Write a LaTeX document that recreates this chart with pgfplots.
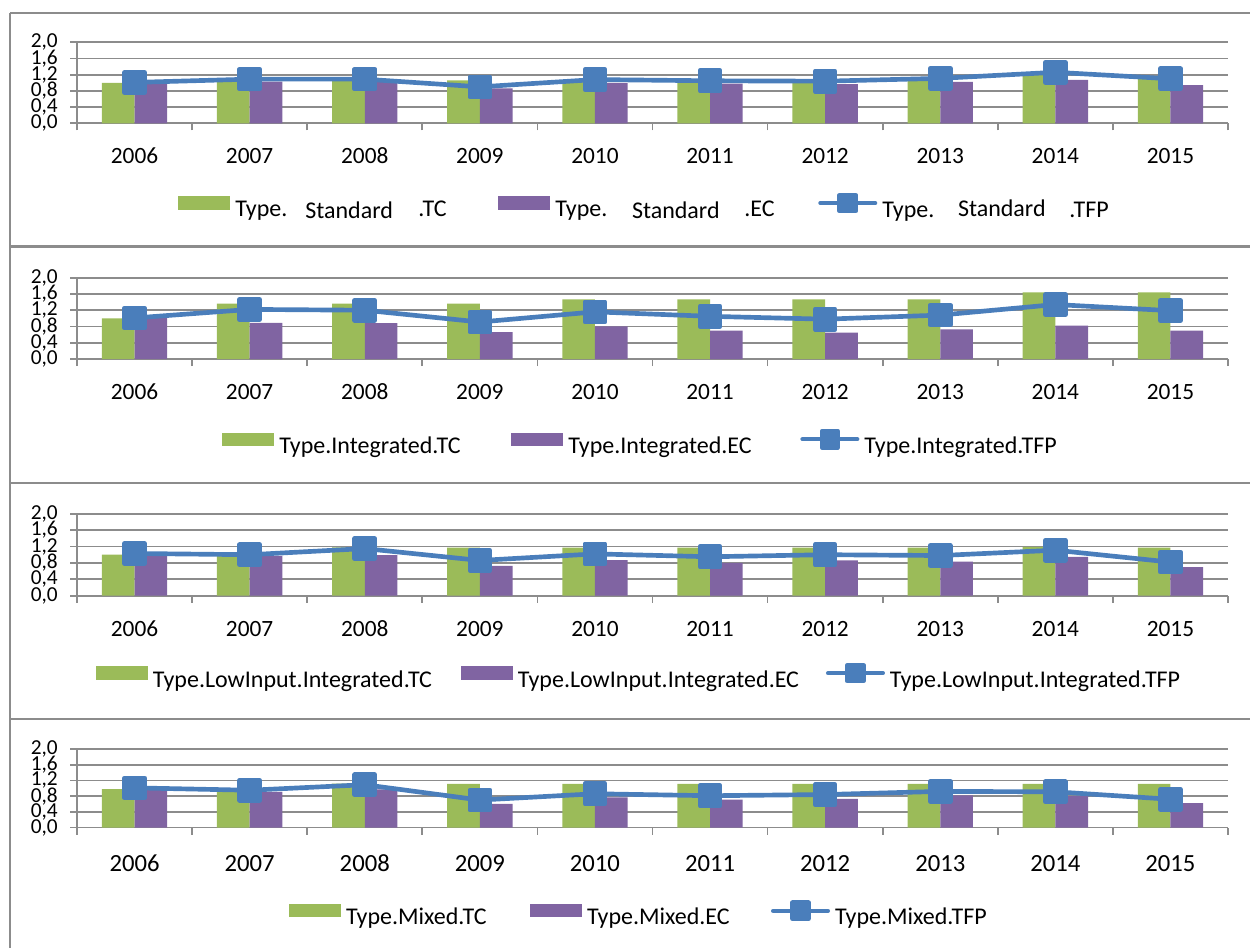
\documentclass[border=0pt]{standalone}
\usepackage{fontspec}
\setmainfont{Carlito}
\usepackage{pgfplots}
\usepackage{pgfplotstable}
\pgfplotsset{compat=1.18}

\definecolor{tcgreen}{HTML}{9BBB59}
\definecolor{ecpurple}{HTML}{8064A2}
\definecolor{tfpblue}{HTML}{4A7EBB}
\definecolor{gridgray}{HTML}{8C8C8C}

% Malmquist decomposition by farm type: TC, EC and TFP per year
\pgfplotstableread{
x TC EC TFP
0 1.00 0.97 1.01
1 1.06 1.03 1.09
2 1.06 1.03 1.09
3 1.06 0.86 0.90
4 1.04 1.00 1.08
5 1.02 0.98 1.05
6 1.00 0.97 1.04
7 1.12 1.02 1.11
8 1.19 1.07 1.26
9 1.13 0.94 1.10
}\standard
\pgfplotstableread{
x TC EC TFP
0 1.00 1.01 1.01
1 1.36 0.89 1.22
2 1.36 0.88 1.20
3 1.36 0.66 0.91
4 1.47 0.80 1.16
5 1.47 0.70 1.05
6 1.47 0.65 0.98
7 1.47 0.73 1.08
8 1.64 0.82 1.34
9 1.64 0.70 1.19
}\integrated
\pgfplotstableread{
x TC EC TFP
0 1.00 0.97 1.03
1 1.00 0.97 1.00
2 1.18 0.99 1.15
3 1.17 0.73 0.86
4 1.17 0.87 1.02
5 1.17 0.80 0.95
6 1.17 0.86 1.00
7 1.17 0.83 0.98
8 1.19 0.95 1.11
9 1.17 0.70 0.82
}\lowinput
\pgfplotstableread{
x TC EC TFP
0 0.98 0.95 1.01
1 0.98 0.91 0.95
2 1.12 0.97 1.09
3 1.11 0.60 0.70
4 1.11 0.77 0.86
5 1.11 0.71 0.81
6 1.11 0.73 0.84
7 1.11 0.82 0.92
8 1.11 0.80 0.91
9 1.11 0.62 0.72
}\mixed

\pgfplotsset{
  panel/.style={
    scale only axis, width=863.25pt,
    xmin=-0.5, xmax=9.5, ymin=0, ymax=2,
    xtick={-0.5,0.5,...,9.5},
    x tick label as interval,
    xticklabels={2006,2007,2008,2009,2010,2011,2012,2013,2014,2015},
    ytick={0,0.4,0.8,1.2,1.6,2.0},
    y tick label style={/pgf/number format/.cd, fixed, fixed zerofill,
      precision=1, use comma, assume math mode=true, /tikz/.cd,
      font=\fontsize{16}{16}\selectfont, anchor=east, inner sep=0pt, xshift=-9pt},
    x tick label style={font=\fontsize{17.5}{18}\selectfont, anchor=base,
      inner sep=0pt, yshift=-25.2pt},
    axis x line*=bottom, axis y line*=left,
    axis line style={gridgray, line width=1.25pt},
    tick style={gridgray, line width=1.25pt},
    tick align=outside, major tick length=5.25pt,
    ymajorgrids, major grid style={gridgray, line width=1.25pt},
    legend columns=3,
    legend cell align=left,
    legend style={draw=none, fill=none, inner sep=0pt, outer sep=0pt,
      font=\fontsize{18}{20}\selectfont, anchor=west,
      nodes={inner sep=0pt},
      /tikz/every odd column/.append style={column sep=3.75pt}},
  },
  tcbar/.style={fill=tcgreen, draw=none, ybar, bar width=24.5pt, bar shift=-12.25pt,
    legend image code/.code={\fill[tcgreen] (0pt,0pt) rectangle (39pt,10pt);}},
  ecbar/.style={fill=ecpurple, draw=none, ybar, bar width=24.5pt, bar shift=12.25pt,
    legend image code/.code={\fill[ecpurple] (0pt,0pt) rectangle (39pt,10pt);}},
  tfpline/.style={tfpblue, line width=3.5pt, line join=round, line cap=round,
    mark=square*, mark size=7.5pt, mark options={fill=tfpblue, draw=none},
    legend image code/.code={
      \draw[tfpblue, line width=3pt, line cap=round] (0pt,5pt) -- (41.25pt,5pt);
      \fill[tfpblue] (14.6pt,-1pt) rectangle (26.6pt,11pt);}},
}

\begin{document}
\begin{tikzpicture}
\useasboundingbox (0pt,0pt) rectangle (937.5pt,-710.25pt);

% panel frames
\draw[gridgray, line width=1pt] (7.5pt,-9.75pt) -- (950pt,-9.75pt);
\draw[gridgray, line width=2pt] (7.5pt,-184.9pt) -- (950pt,-184.9pt);
\draw[gridgray, line width=2pt] (7.5pt,-362.25pt) -- (950pt,-362.25pt);
\draw[gridgray, line width=2pt] (7.5pt,-539.25pt) -- (950pt,-539.25pt);
\draw[gridgray, line width=1.5pt] (7.5pt,-9.75pt) -- (7.5pt,-720pt);

% Standard
\begin{axis}[panel, at={(57.75pt,-92.475pt)}, anchor=south west, height=60.75pt,
  legend style={at={(0.088,-1.025)}}]
\addplot[tcbar] table[x=x, y=TC] {\standard};
\addlegendentry{\makebox[197.25pt][l]{Type.\hspace{13.5pt}\raisebox{-1.5pt}{Standard}\hspace{19pt}.TC}}
\addplot[ecbar] table[x=x, y=EC] {\standard};
\addlegendentry{\makebox[197.25pt][l]{Type.\hspace{18.5pt}\raisebox{-1.5pt}{Standard}\hspace{18.5pt}.EC}}
\addplot[tfpline] table[x=x, y=TFP] {\standard};
\addlegendentry{Type.\hspace{17.75pt}\raisebox{1.2pt}{Standard}\hspace{17.75pt}.TFP}
\end{axis}

% Integrated
\begin{axis}[panel, at={(57.75pt,-269.25pt)}, anchor=south west, height=60.975pt,
  legend style={at={(0.1263,-1.021)}}]
\addplot[tcbar] table[x=x, y=TC] {\integrated};
\addlegendentry{\makebox[174pt][l]{Type.Integrated.TC}}
\addplot[ecbar] table[x=x, y=EC] {\integrated};
\addlegendentry{\makebox[174pt][l]{Type.Integrated.EC}}
\addplot[tfpline] table[x=x, y=TFP] {\integrated};
\addlegendentry{Type.Integrated.TFP}
\end{axis}

% Low input integrated
\begin{axis}[panel, at={(57.75pt,-446.775pt)}, anchor=south west, height=61.5pt,
  legend style={at={(0.0165,-0.979)}}]
\addplot[tcbar] table[x=x, y=TC] {\lowinput};
\addlegendentry{\makebox[231pt][l]{Type.LowInput.Integrated.TC}}
\addplot[ecbar] table[x=x, y=EC] {\lowinput};
\addlegendentry{\makebox[231pt][l]{Type.LowInput.Integrated.EC}}
\addplot[tfpline] table[x=x, y=TFP] {\lowinput};
\addlegendentry{Type.LowInput.Integrated.TFP}
\end{axis}

% Mixed
\begin{axis}[panel, at={(57.75pt,-620.625pt)}, anchor=south west, height=58.875pt,
  x tick label style={font=\fontsize{18.5}{19}\selectfont, yshift=-2.4pt},
  legend style={at={(0.1842,-1.097)}}]
\addplot[tcbar] table[x=x, y=TC] {\mixed};
\addlegendentry{\makebox[138pt][l]{Type.Mixed.TC}}
\addplot[ecbar] table[x=x, y=EC] {\mixed};
\addlegendentry{\makebox[138pt][l]{Type.Mixed.EC}}
\addplot[tfpline] table[x=x, y=TFP] {\mixed};
\addlegendentry{Type.Mixed.TFP}
\end{axis}
\end{tikzpicture}
\end{document}
